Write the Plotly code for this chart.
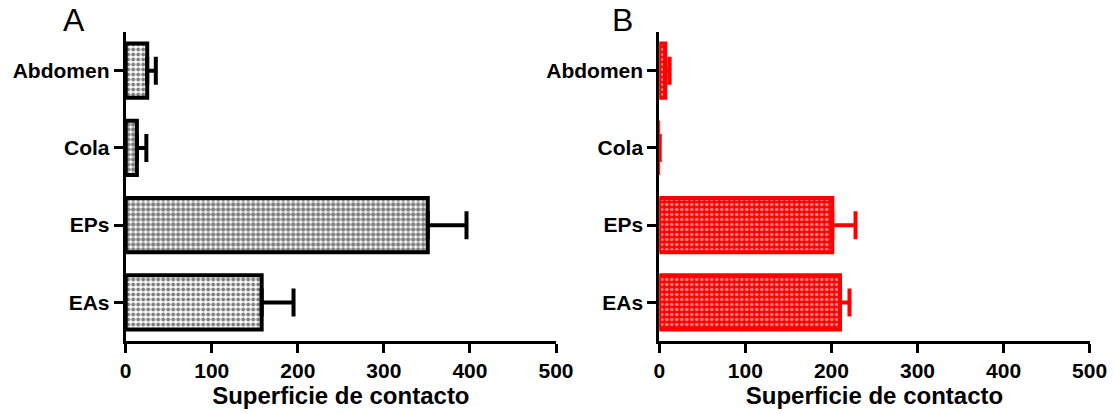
import plotly.graph_objects as go

categories = ["EAs", "EPs", "Cola", "Abdomen"]
values_a = [158, 351, 13, 25]
errors_a = [37, 45, 11, 10]
values_b = [210, 201, 0.5, 7]
errors_b = [11, 27, 0, 5]
x_ticks = [0, 100, 200, 300, 400, 500]
x_title = "Superficie de contacto"
panel_labels = ["A", "B"]

W, H = 1115, 414
fig = go.Figure()

FONT = "Liberation Sans, Arial, sans-serif"

fig.add_trace(go.Bar(
    y=categories, x=values_a, orientation="h",
    marker=dict(color="white",
                line=dict(color="black", width=4),
                pattern=dict(shape=".", fgcolor="black", bgcolor="white",
                             size=5, solidity=[0.5, 0.62, 0.62, 0.5])),
    error_x=dict(type="data", array=errors_a, arrayminus=[0] * 4, symmetric=False,
                 color="black", thickness=4, width=14),
    xaxis="x", yaxis="y", showlegend=False,
))
fig.add_trace(go.Bar(
    y=categories, x=values_b, orientation="h",
    marker=dict(color="red",
                line=dict(color="red", width=[4, 4, 1, 4]),
                pattern=dict(shape=".", fgcolor="white", bgcolor="red",
                             size=5, solidity=0.38)),
    error_x=dict(type="data", array=errors_b, arrayminus=[0] * 4, symmetric=False,
                 color="red", thickness=4, width=14),
    xaxis="x2", yaxis="y2", showlegend=False,
))

ydom = [1 - 341 / H, 1 - 32 / H]
xdom_a = [125.7 / W, 556 / W]
xdom_b = [659.3 / W, 1089.6 / W]

xcommon = dict(range=[0, 500], tickvals=x_ticks, showline=True, linecolor="black",
               linewidth=3, ticks="outside", ticklen=9, tickwidth=3, tickcolor="black",
               showgrid=False, zeroline=False, automargin=False,
               tickfont=dict(family=FONT, size=21, color="black", weight="bold"),
               title=dict(text=x_title, standoff=4,
                          font=dict(family=FONT, size=24, color="black", weight="bold")))
ycommon = dict(range=[-0.5, 3.5], categoryorder="array", categoryarray=categories,
               showline=True, linecolor="black", linewidth=3, ticks="outside",
               ticklen=9, tickwidth=3, tickcolor="black", showgrid=False, zeroline=False,
               automargin=False,
               tickfont=dict(family=FONT, size=21, color="black", weight="bold"))

fig.update_layout(
    width=W, height=H,
    margin=dict(l=0, r=0, t=0, b=0, autoexpand=False),
    paper_bgcolor="white", plot_bgcolor="white",
    bargap=0.3,
    xaxis=dict(domain=xdom_a, anchor="y", **xcommon),
    yaxis=dict(domain=ydom, anchor="x", **ycommon),
    xaxis2=dict(domain=xdom_b, anchor="y2", **xcommon),
    yaxis2=dict(domain=ydom, anchor="x2", **ycommon),
    annotations=[
        dict(text=panel_labels[0], x=73.7 / W, y=1 - 20 / H, xref="paper", yref="paper",
             showarrow=False, xanchor="center", yanchor="middle",
             font=dict(family=FONT, size=32, color="black")),
        dict(text=panel_labels[1], x=622 / W, y=1 - 20 / H, xref="paper", yref="paper",
             showarrow=False, xanchor="center", yanchor="middle",
             font=dict(family=FONT, size=32, color="black")),
    ],
)

fig.write_html("out.html", config={"displayModeBar": False},
               post_script="document.body.style.margin='0';document.body.style.overflow='hidden';")
